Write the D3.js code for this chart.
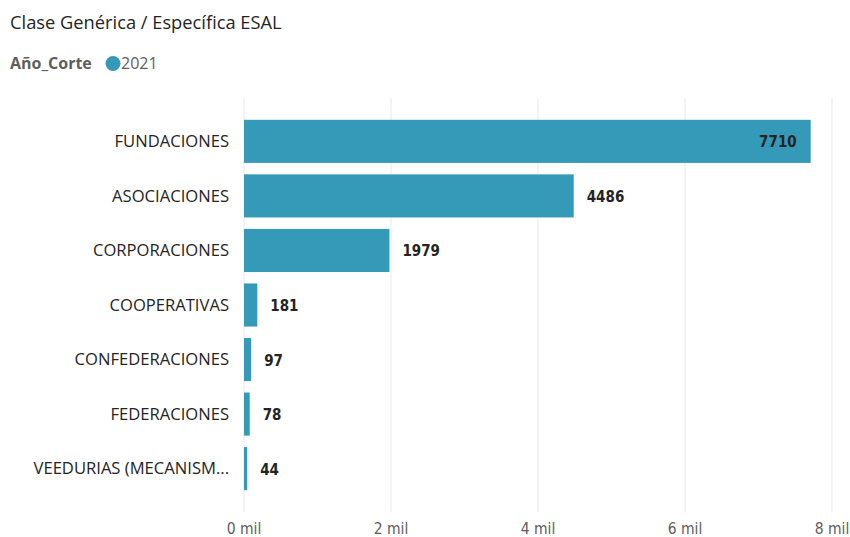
<!DOCTYPE html>
<html><head><meta charset="utf-8">
<script src="https://cdn.jsdelivr.net/npm/d3@7"></script>
<style>body{margin:0;background:#fff;} svg{display:block;}</style>
</head><body>
<svg id="chart" width="850" height="537"></svg>
<script>
const categories = ["FUNDACIONES","ASOCIACIONES","CORPORACIONES","COOPERATIVAS","CONFEDERACIONES","FEDERACIONES","VEEDURIAS (MECANISM..."];
const values2021 = [7710,4486,1979,181,97,78,44];
const xTicks = [0,2000,4000,6000,8000];
const title = "Clase Genérica / Específica ESAL";
const legendTitle = "Año_Corte";
const seriesName = "2021";

const svg = d3.select("#chart");
const barColor = "#3599B8";
const catFont = "'Segoe UI','Open Sans','Noto Sans',sans-serif";
const numFont = "'DejaVu Sans Condensed','Liberation Sans Narrow','Roboto',sans-serif";

svg.append("text").attr("x",10).attr("y",29).text(title)
  .attr("font-family",catFont).attr("font-size",18.3).attr("fill","#252423");

svg.append("text").attr("x",10).attr("y",69).text(legendTitle)
  .attr("font-family",catFont).attr("font-size",16).attr("font-weight","bold").attr("fill","#605E5C");
svg.append("circle").attr("cx",113).attr("cy",63.5).attr("r",7.5).attr("fill",barColor);
svg.append("text").attr("x",121).attr("y",69).text(seriesName)
  .attr("font-family",catFont).attr("font-size",16).attr("fill","#605E5C");

const x = d3.scaleLinear().domain([0,8000]).range([244,832]);
const y = d3.scaleBand().domain(categories).range([98,512]).paddingInner(0.21).paddingOuter(0.4);

// gridlines
svg.append("g").selectAll("line").data(xTicks).join("line")
  .attr("x1",d=>x(d)).attr("x2",d=>x(d)).attr("y1",98).attr("y2",512)
  .attr("stroke","#e8e8e8").attr("stroke-width",1);

// x axis labels
svg.append("g").selectAll("text").data(xTicks).join("text")
  .attr("x",d=>x(d)).attr("y",529).attr("dy","0.35em").attr("text-anchor","middle")
  .text(d=>(d/1000)+" mil")
  .attr("font-family",numFont).attr("font-size",15.5).attr("fill","#605E5C");

const data = categories.map((c,i)=>({c, v: values2021[i]}));

svg.append("g").selectAll("rect").data(data).join("rect")
  .attr("x",x(0)).attr("y",d=>y(d.c)).attr("width",d=>x(d.v)-x(0)).attr("height",y.bandwidth())
  .attr("fill",barColor);

// category labels
svg.append("g").selectAll("text").data(data).join("text")
  .attr("x",229).attr("y",d=>y(d.c)+y.bandwidth()/2).attr("dy","0.35em")
  .attr("text-anchor","end").text(d=>d.c)
  .attr("font-family",catFont).attr("font-size",16.6).attr("fill","#252423");

// value labels
svg.append("g").selectAll("text").data(data).join("text")
  .attr("x",d=> d.v>6000 ? x(d.v)-14 : x(d.v)+13)
  .attr("text-anchor",d=> d.v>6000 ? "end" : "start")
  .attr("y",d=>y(d.c)+y.bandwidth()/2).attr("dy","0.4em")
  .text(d=>d.v)
  .attr("font-family",numFont).attr("font-size",15).attr("font-weight","bold").attr("fill","#252423");
</script>
</body></html>
